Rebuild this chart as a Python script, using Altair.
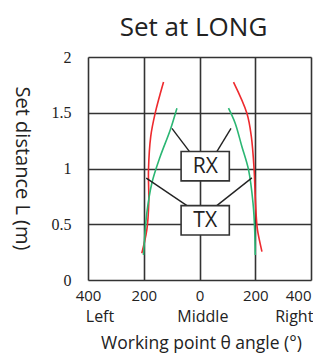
import altair as alt
import pandas as pd

# curve data (x = working point angle, negative = left; y = set distance m)
lr_x = [-129, -159, -175, -183, -182, -189, -207]
lr_y = [1.775, 1.496, 1.286, 0.987, 0.689, 0.449, 0.24]
lg_x = [-81, -105, -141, -171, -189, -199, -201]
lg_y = [1.541, 1.346, 1.107, 0.868, 0.599, 0.299, 0.224]
rr_x = [122, 170, 186, 196, 201, 208, 224]
rr_y = [1.775, 1.496, 1.286, 0.987, 0.689, 0.449, 0.254]
rg_x = [104, 128, 152, 176, 192, 198, 200]
rg_y = [1.541, 1.406, 1.197, 0.987, 0.689, 0.449, 0.224]

box_labels = ["RX", "TX"]
box_x1 = [-66, -66]
box_x2 = [107, 107]
box_y1 = [0.889, 0.404]
box_y2 = [1.152, 0.667]

lead_x1 = [-99, 113, -191, 188]
lead_y1 = [1.36, 1.36, 0.913, 0.916]
lead_x2 = [-33, 60, -45, 62]
lead_y2 = [1.143, 1.143, 0.667, 0.667]

side_labels = ["Left", "Middle", "Right"]
side_x = [-357, 12, 340]

x_ticks = [-400, -200, 0, 200, 400]
y_ticks = [0, 0.5, 1, 1.5, 2]

rows = []
for name, xs, ys in [("lr", lr_x, lr_y), ("lg", lg_x, lg_y), ("rr", rr_x, rr_y), ("rg", rg_x, rg_y)]:
    for i, (a, b) in enumerate(zip(xs, ys)):
        rows.append({"curve": name, "x": a, "y": b, "i": i, "col": "red" if name[1] == "r" else "green"})
curves = pd.DataFrame(rows)
boxes = pd.DataFrame({"label": box_labels, "x1": box_x1, "x2": box_x2, "y1": box_y1, "y2": box_y2})
leads = pd.DataFrame({"x1": lead_x1, "y1": lead_y1, "x2": lead_x2, "y2": lead_y2})
sides = pd.DataFrame({"label": side_labels, "x": side_x})

xs = alt.Scale(domain=[-400, 400], nice=False)
ys = alt.Scale(domain=[0, 2], nice=False)

xaxis = alt.Axis(values=x_ticks, labelExpr="format(abs(datum.value), 'd')", ticks=False, domain=False,
                 grid=True, gridColor="#333333", gridWidth=1.6, gridOpacity=1, labelFlush=False,
                 labelAlign={"expr": "datum.value >= 400 ? 'right' : 'center'"},
                 labelFont="Open Sans", labelFontSize=15, labelColor="#222222", labelPadding=8,
                 title="Working point θ angle (°)", titleFont="Open Sans", titleFontSize=17.5,
                 titleFontWeight="normal", titleColor="#222222", titleY=63, titleX=113,
                 titleBaseline="middle", titleAlign="center")
yaxis = alt.Axis(values=y_ticks, labelExpr="toString(datum.value)", ticks=False, domain=False,
                 grid=True, gridColor="#333333", gridWidth=1.6, gridOpacity=1, labelFlush=False,
                 labelFont="Liberation Sans Narrow", labelFontSize=16, labelColor="#222222", labelPadding=17,
                 title="Set distance L (m)", titleFont="Open Sans", titleFontSize=20,
                 titleFontWeight="normal", titleColor="#222222", titleAngle=90, titleX=-67, titleY=111,
                 titleBaseline="middle", titleAlign="center")

base = alt.Chart(curves)

lines = base.mark_line(strokeWidth=1.6, interpolate="catmull-rom").encode(
    x=alt.X("x:Q", scale=xs, axis=xaxis),
    y=alt.Y("y:Q", scale=ys, axis=yaxis),
    detail="curve:N",
    order="i:O",
    color=alt.Color("col:N", scale=alt.Scale(domain=["red", "green"], range=["#ee2a2e", "#2bb673"]), legend=None),
)

lead = alt.Chart(leads).mark_rule(color="#222222", strokeWidth=1.4).encode(
    x=alt.X("x1:Q", scale=xs), y=alt.Y("y1:Q", scale=ys), x2="x2:Q", y2="y2:Q")

rect = alt.Chart(boxes).mark_rect(fill="white", stroke="#333333", strokeWidth=1.6).encode(
    x=alt.X("x1:Q", scale=xs), x2="x2:Q", y=alt.Y("y1:Q", scale=ys), y2="y2:Q")

txt = alt.Chart(boxes).transform_calculate(xm="(datum.x1+datum.x2)/2", ym="(datum.y1+datum.y2)/2").mark_text(
    font="Open Sans", fontSize=21, color="#222222", baseline="middle", dy=1).encode(
    x=alt.X("xm:Q", scale=xs), y=alt.Y("ym:Q", scale=ys), text="label:N")

side = alt.Chart(sides).mark_text(font="Open Sans", fontSize=16, color="#222222", baseline="middle").encode(
    x=alt.X("x:Q", scale=xs), y=alt.value(260), text="label:N")

chart = alt.layer(lines, lead, rect, txt, side).properties(
    width=223, height=223,
    title=alt.TitleParams("Set at LONG", font="Open Sans", fontSize=26, fontWeight="normal",
                          color="#222222", offset=8, anchor="middle", dx=-6),
    autosize=alt.AutoSizeParams(type="none"),
    padding={"left": 80, "top": 49, "right": 2, "bottom": 76},
).configure_view(stroke="#333333", strokeWidth=2).configure(background="white")

chart.save("out.html", embed_options={"renderer": "svg", "actions": False})
